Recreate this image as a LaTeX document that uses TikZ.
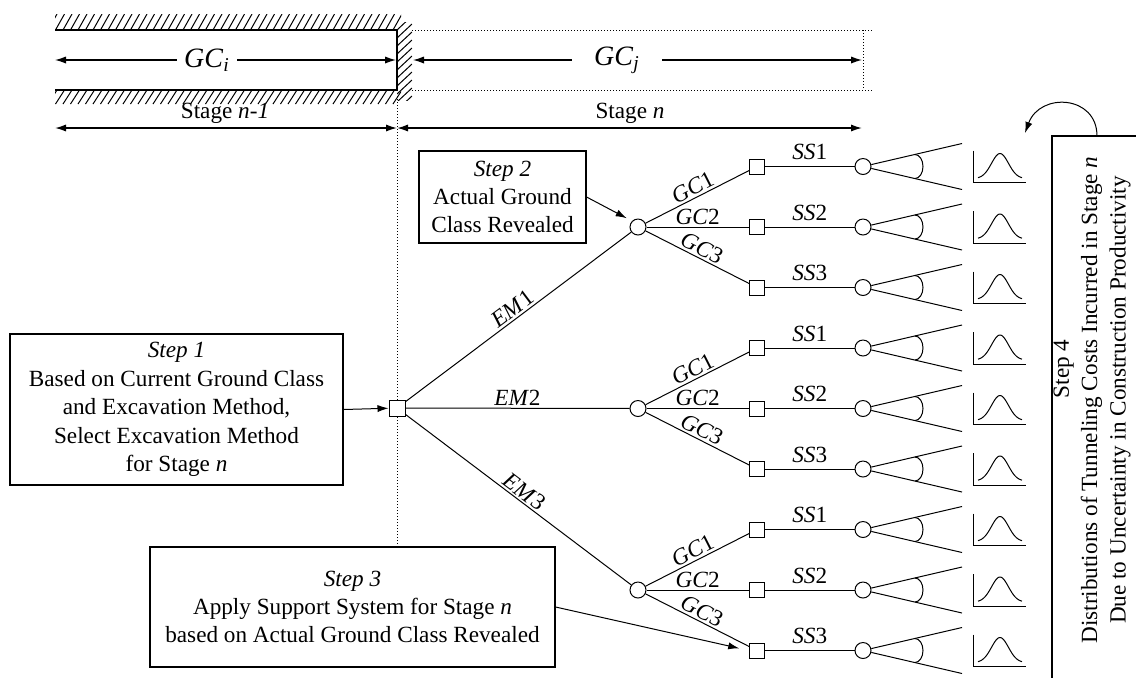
\documentclass[tikz,border=0pt]{standalone}
\usepackage{fontspec}
\setmainfont{Liberation Serif}
\usetikzlibrary{positioning}
\usetikzlibrary{arrows.meta}

\begin{document}
\begin{tikzpicture}[x=0.5pt, y=-0.5pt,
    font=\fontsize{11.6}{14.2}\selectfont,
    stepbox/.style={draw, line width=0.6pt, align=center, inner sep=0pt},
    decsq/.style={draw, fill=white, line width=0.5pt, minimum size=8pt, inner sep=0pt},
    chance/.style={draw, circle, fill=white, line width=0.5pt, minimum size=8pt, inner sep=0pt},
    branch/.style={line width=0.5pt},
    arr/.style={-{Latex[length=5.5pt,width=3.6pt]}},
    lbl/.style={inner sep=1pt}]
    \useasboundingbox (0,0) rectangle (1136,677);

    % ground class walls
    \begin{scope}
        \clip (55,14) rectangle (401,30);
        \foreach \x in {48,55.5,...,400} \draw[line width=0.5pt] (\x,30) -- (\x+9,14);
    \end{scope}
    \begin{scope}
        \clip (55,90) rectangle (401,104);
        \foreach \x in {48,55.5,...,400} \draw[line width=0.5pt] (\x,104) -- (\x+9,90);
    \end{scope}
    \begin{scope}
        \clip (397,22) rectangle (412,100);
        \foreach \y in {22,30,...,120} \draw[line width=0.5pt] (397,\y) -- (412,\y-14);
    \end{scope}
    \draw[line width=0.6pt] (55,30) -- (397,30) -- (397,90) -- (55,90);
    \draw[densely dotted, line width=0.5pt] (412,30) -- (874,30) (412,90) -- (874,90) (863,30) -- (863,90);

    \node[font=\fontsize{14}{16}\selectfont, minimum width=30pt, inner sep=0pt] (gci) at (207,60) {\textit{GC}\textsubscript{\textit{i}}};
    \node[font=\fontsize{14}{16}\selectfont, minimum width=45pt, inner sep=0pt] (gcj) at (617,60) {\textit{GC}\textsubscript{\textit{j}}};
    \coordinate (gcil) at (55,60);
    \coordinate (gcir) at (396,60);
    \coordinate (gcjl) at (413,60);
    \coordinate (gcjr) at (862,60);
    \draw[arr, line width=0.6pt] (gci) -- (gcil);
    \draw[arr, line width=0.6pt] (gci) -- (gcir);
    \draw[arr, line width=0.6pt] (gcj) -- (gcjl);
    \draw[arr, line width=0.6pt] (gcj) -- (gcjr);

    % stages
    \coordinate (stl) at (55,128);
    \coordinate (stm) at (397,128);
    \coordinate (str) at (862,128);
    \draw[{Latex[length=5.5pt,width=3.6pt]}-{Latex[length=5.5pt,width=3.6pt]}, line width=0.8pt] (stl) -- (stm);
    \draw[{Latex[length=5.5pt,width=3.6pt]}-{Latex[length=5.5pt,width=3.6pt]}, line width=0.8pt] (stm) -- (str);
    \node (stgi) at (225,113) {Stage \textit{n-1}};
    \node (stgj) at (630,113) {Stage \textit{n}};
    \draw[densely dotted, line width=0.5pt] (397,90) -- (397,547);

    % steps
    \node[stepbox, minimum width=166.5pt, minimum height=75.5pt] (s1) at (176.5,409.5)
        {\textit{Step 1}\\Based on Current Ground Class\\and Excavation Method,\\Select Excavation Method\\for Stage \textit{n}};
    \node[stepbox, minimum width=83.5pt, minimum height=46pt] (s2) at (502.5,197)
        {\textit{Step 2}\\Actual Ground\\Class Revealed};
    \node[stepbox, minimum width=202.5pt, minimum height=60pt] (s3) at (352.5,607)
        {\textit{Step 3}\\Apply Support System for Stage \textit{n}\\based on Actual Ground Class Revealed};
    \draw[line width=0.6pt] (1140,136) -- (1052,136) -- (1052,680);
    \node[rotate=90, align=center] (s4) at (1092,400)
        {\hspace*{31pt}Step 4\\Distributions of Tunneling Costs Incurred in Stage \textit{n}\\Due to Uncertainty in Construction Productivity};

    % decision tree
    \node[decsq] (d0) at (397,408) {};
    \draw[arr, branch] (s1.east) -- (d0);
    \foreach \g/\yc in {1/227, 2/408.5, 3/590} {
        \node[chance] (c\g) at (638,\yc) {};
        \draw[branch] (d0) -- node[lbl, above, sloped] {\textit{EM}\g} (c\g);
        \foreach \j/\dy in {1/-60.5, 2/0, 3/60.5} {
            \pgfmathsetmacro\yy{\yc+\dy}
            \node[decsq, minimum size=7.5pt] (q\g\j) at (757,\yy) {};
            \node[chance] (e\g\j) at (863,\yy) {};
            \draw[branch] (c\g) -- node[lbl, above, sloped] {\textit{GC}\j} (q\g\j);
            \draw[branch] (q\g\j) -- node[lbl, above=2pt] {\textit{SS}\j} (e\g\j);
            \coordinate (fu\g\j) at (962,\yy-23);
            \coordinate (fd\g\j) at (962,\yy+23);
            \draw[branch] (fu\g\j) -- (e\g\j) -- (fd\g\j);
            \draw[branch] (915,\yy-12) arc[start angle=90, end angle=-90, x radius=4pt, y radius=6pt];
            % cost distribution
            \draw[branch] (973,\yy-16) -- (973,\yy+16) -- (1026,\yy+16);
            \draw[branch, domain=978:1022, samples=40, smooth]
                plot (\x, {\yy+12-25*exp(0-((\x-1000)/12)*((\x-1000)/12))});
        }
    }
    \draw[arr, branch, shorten >=3pt] (s2.east) -- (c1.north west);
    \draw[arr, branch, shorten >=5pt] (s3.east) -- (q33.west);

    \coordinate (s4top) at (1097,136);
    \coordinate (s4tip) at (1025,133);
    \draw[arr, branch] (s4top) .. controls (1097,95) and (1040,92) .. (s4tip);
\end{tikzpicture}
\end{document}
